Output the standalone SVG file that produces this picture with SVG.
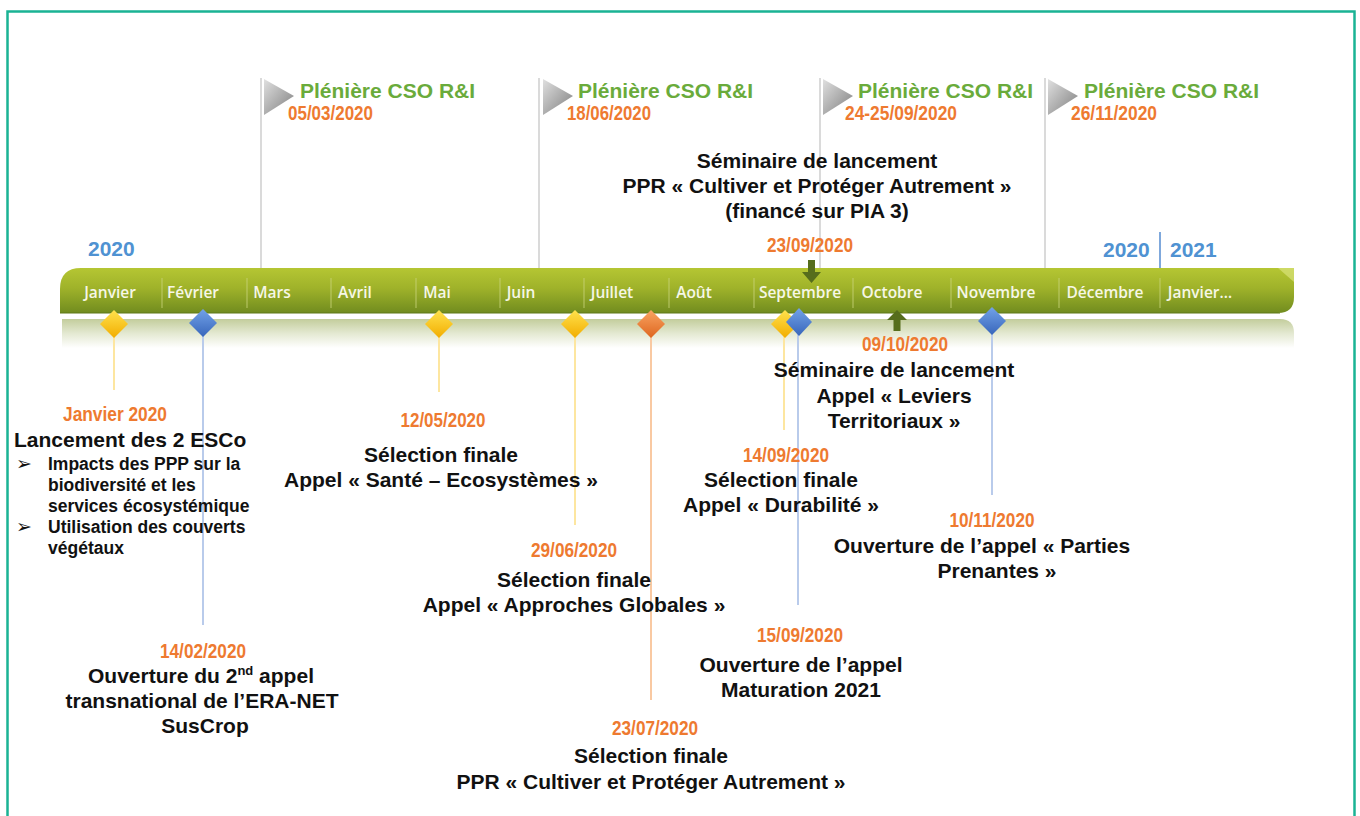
<svg xmlns="http://www.w3.org/2000/svg" width="1360" height="816" viewBox="0 0 1360 816">
<defs>
<linearGradient id="barG" x1="0" y1="0" x2="0" y2="1">
<stop offset="0" stop-color="#b5c633"/><stop offset="0.45" stop-color="#9fb22a"/><stop offset="1" stop-color="#718c1f"/>
</linearGradient>
<linearGradient id="reflG" x1="0" y1="0" x2="0" y2="1">
<stop offset="0" stop-color="#c3cd9c"/><stop offset="0.5" stop-color="#e4e9d2"/><stop offset="1" stop-color="#ffffff"/>
</linearGradient>
<linearGradient id="flagG" x1="0" y1="0" x2="1" y2="1">
<stop offset="0" stop-color="#e0e0e0"/><stop offset="1" stop-color="#7e7e7e"/>
</linearGradient>
<linearGradient id="yelG" x1="0" y1="0" x2="0" y2="1">
<stop offset="0" stop-color="#ffe24d"/><stop offset="1" stop-color="#f2ad00"/>
</linearGradient>
<linearGradient id="bluG" x1="0" y1="0" x2="0" y2="1">
<stop offset="0" stop-color="#72a2e8"/><stop offset="1" stop-color="#3866bb"/>
</linearGradient>
<linearGradient id="oraG" x1="0" y1="0" x2="0" y2="1">
<stop offset="0" stop-color="#f9a463"/><stop offset="1" stop-color="#de661f"/>
</linearGradient>
<style>
.frame{fill:none;stroke:#1ab394;stroke-width:2.5}
.vl{stroke:#dadada;stroke-width:2}
.sep{stroke:#c9d47a;stroke-width:1.2;opacity:0.7}
.mon{font-family:"Open Sans","DejaVu Sans",sans-serif;font-weight:600;font-size:15.5px;fill:#f6f7e6;text-anchor:middle}
.ple{font-family:"Liberation Sans",Arial,sans-serif;font-weight:bold;font-size:21px;fill:#6aab3b}
.dt{font-family:"Liberation Sans",Arial,sans-serif;font-weight:bold;font-size:20px;fill:#ee7a30}
.dtc{font-family:"Liberation Sans",Arial,sans-serif;font-weight:bold;font-size:20px;fill:#ee7a30;text-anchor:middle}
.yr{font-family:"Liberation Sans",Arial,sans-serif;font-weight:bold;font-size:21px;fill:#4f92d2}
.lb{font-family:"Liberation Sans",Arial,sans-serif;font-weight:bold;font-size:21px;fill:#111;text-anchor:middle}
.lbl{font-family:"Liberation Sans",Arial,sans-serif;font-weight:bold;font-size:21px;fill:#111}
.sm{font-family:"Liberation Sans",Arial,sans-serif;font-weight:bold;font-size:17.5px;fill:#111}
.bul{font-family:"DejaVu Sans",sans-serif;font-size:19px;fill:#111}
.ly{stroke:#fde6a0;stroke-width:2}
.lbl2{stroke:#b9cbeb;stroke-width:2}
.lo{stroke:#f9c9a2;stroke-width:2}
.arr{fill:#566d1c}
</style>
</defs>
<rect class="frame" x="7.5" y="11.5" width="1347" height="900"/>

<g id="timeline">
<path d="M62,319 L1280,319 Q1294,319 1294,333 L1294,348 L62,348 Z" fill="url(#reflG)"/>
<path d="M60,313 L60,289 Q60,268 81,268 L1294,268 L1294,297 Q1294,313 1278,313 Z" fill="url(#barG)"/>
<path d="M60,313 L1280,313" stroke="#5f7819" stroke-width="1"/>
<path d="M1278,268 L1294,268 L1294,282 Z" fill="#d8e27a" opacity="0.7"/>
<line class="sep" x1="162" y1="278" x2="162" y2="308"/>
<line class="sep" x1="247" y1="278" x2="247" y2="308"/>
<line class="sep" x1="331" y1="278" x2="331" y2="308"/>
<line class="sep" x1="416" y1="278" x2="416" y2="308"/>
<line class="sep" x1="500" y1="278" x2="500" y2="308"/>
<line class="sep" x1="584" y1="278" x2="584" y2="308"/>
<line class="sep" x1="669" y1="278" x2="669" y2="308"/>
<line class="sep" x1="754" y1="278" x2="754" y2="308"/>
<line class="sep" x1="853" y1="278" x2="853" y2="308"/>
<line class="sep" x1="951" y1="278" x2="951" y2="308"/>
<line class="sep" x1="1059" y1="278" x2="1059" y2="308"/>
<line class="sep" x1="1160" y1="278" x2="1160" y2="308"/>
<text class="mon" x="110" y="298">Janvier</text>
<text class="mon" x="193" y="298">Février</text>
<text class="mon" x="272" y="298">Mars</text>
<text class="mon" x="355" y="298">Avril</text>
<text class="mon" x="437" y="298">Mai</text>
<text class="mon" x="521" y="298">Juin</text>
<text class="mon" x="612" y="298">Juillet</text>
<text class="mon" x="694" y="298">Août</text>
<text class="mon" x="800" y="298">Septembre</text>
<text class="mon" x="892" y="298">Octobre</text>
<text class="mon" x="996" y="298">Novembre</text>
<text class="mon" x="1105" y="298">Décembre</text>
<text class="mon" x="1200" y="298">Janvier…</text>
<text class="yr" x="88" y="256">2020</text>
<text class="yr" x="1103" y="257">2020</text>
<text class="yr" x="1170" y="257">2021</text>
</g>

<g id="connectors">
<line class="vl" x1="261" y1="78" x2="261" y2="268"/>
<line class="vl" x1="539" y1="78" x2="539" y2="268"/>
<line class="vl" x1="820" y1="78" x2="820" y2="268"/>
<line class="vl" x1="1045" y1="78" x2="1045" y2="268"/>
<line x1="1160" y1="232" x2="1160" y2="268" stroke="#7fa8dc" stroke-width="2"/>
<line class="ly" x1="114" y1="330" x2="114" y2="390"/>
<line class="lbl2" x1="203" y1="330" x2="203" y2="625"/>
<line class="ly" x1="439" y1="330" x2="439" y2="392"/>
<line class="ly" x1="575" y1="330" x2="575" y2="525"/>
<line class="lo" x1="651" y1="330" x2="651" y2="700"/>
<line class="ly" x1="784" y1="330" x2="784" y2="430"/>
<line class="lbl2" x1="798" y1="330" x2="798" y2="605"/>
<line class="lbl2" x1="992" y1="330" x2="992" y2="495"/>
</g>

<g id="flag1">
<polygon points="264,79 294,96 264,115" fill="url(#flagG)"/>
<text class="ple" x="300" y="98">Plénière CSO R&amp;I</text>
<text class="dt" x="288" y="120" textLength="85" lengthAdjust="spacingAndGlyphs">05/03/2020</text>
</g>
<g id="flag2">
<polygon points="543,79 573,96 543,115" fill="url(#flagG)"/>
<text class="ple" x="578" y="98">Plénière CSO R&amp;I</text>
<text class="dt" x="567" y="120" textLength="84" lengthAdjust="spacingAndGlyphs">18/06/2020</text>
</g>
<g id="flag3">
<polygon points="823,79 853,96 823,115" fill="url(#flagG)"/>
<text class="ple" x="858" y="98">Plénière CSO R&amp;I</text>
<text class="dt" x="845" y="120" textLength="112" lengthAdjust="spacingAndGlyphs">24-25/09/2020</text>
</g>
<g id="flag4">
<polygon points="1048,79 1078,96 1048,115" fill="url(#flagG)"/>
<text class="ple" x="1084" y="98">Plénière CSO R&amp;I</text>
<text class="dt" x="1071" y="120" textLength="86" lengthAdjust="spacingAndGlyphs">26/11/2020</text>
</g>

<g id="ev-janvier">
<polygon points="114,310 128,324 114,338 100,324" fill="url(#yelG)"/>
<text class="dtc" x="115" y="421" textLength="104" lengthAdjust="spacingAndGlyphs">Janvier 2020</text>
<text class="lbl" x="14" y="447">Lancement des 2 ESCo</text>
<text class="bul" x="16" y="470">➢</text>
<text class="sm" x="48" y="470">Impacts des PPP sur la</text>
<text class="sm" x="48" y="491">biodiversité et les</text>
<text class="sm" x="48" y="512">services écosystémique</text>
<text class="bul" x="16" y="533">➢</text>
<text class="sm" x="48" y="533">Utilisation des couverts</text>
<text class="sm" x="48" y="554">végétaux</text>
</g>

<g id="ev-fevrier">
<polygon points="203,309 217,323 203,337 189,323" fill="url(#bluG)"/>
<text class="dtc" x="203" y="658" textLength="86" lengthAdjust="spacingAndGlyphs">14/02/2020</text>
<text class="lb" x="201" y="683">Ouverture du 2<tspan font-size="13" dy="-8">nd</tspan><tspan dy="8"> appel</tspan></text>
<text class="lb" x="202" y="708">transnational de l’ERA-NET</text>
<text class="lb" x="205" y="733">SusCrop</text>
</g>

<g id="ev-mai">
<polygon points="439,310 453,324 439,338 425,324" fill="url(#yelG)"/>
<text class="dtc" x="443" y="427" textLength="85" lengthAdjust="spacingAndGlyphs">12/05/2020</text>
<text class="lb" x="441" y="462">Sélection finale</text>
<text class="lb" x="441" y="487">Appel « Santé – Ecosystèmes »</text>
</g>

<g id="ev-juin">
<polygon points="575,310 589,324 575,338 561,324" fill="url(#yelG)"/>
<text class="dtc" x="574" y="557" textLength="86" lengthAdjust="spacingAndGlyphs">29/06/2020</text>
<text class="lb" x="574" y="587">Sélection finale</text>
<text class="lb" x="574" y="612">Appel « Approches Globales »</text>
</g>

<g id="ev-juillet">
<polygon points="651,310 665,324 651,338 637,324" fill="url(#oraG)"/>
<text class="dtc" x="655" y="735" textLength="86" lengthAdjust="spacingAndGlyphs">23/07/2020</text>
<text class="lb" x="651" y="763">Sélection finale</text>
<text class="lb" x="651" y="789">PPR « Cultiver et Protéger Autrement »</text>
</g>

<g id="ev-sept-seminaire">
<polygon class="arr" points="808,260 815,260 815,272 821,272 811.5,283 802,272 808,272"/>
<text class="lb" x="817" y="168">Séminaire de lancement</text>
<text class="lb" x="817" y="193">PPR « Cultiver et Protéger Autrement »</text>
<text class="lb" x="817" y="218">(financé sur PIA 3)</text>
<text class="dtc" x="810" y="252" textLength="86" lengthAdjust="spacingAndGlyphs">23/09/2020</text>
</g>

<g id="ev-sept-durabilite">
<polygon points="785,310 799,324 785,338 771,324" fill="url(#yelG)"/>
<text class="dtc" x="786" y="462" textLength="86" lengthAdjust="spacingAndGlyphs">14/09/2020</text>
<text class="lb" x="781" y="487">Sélection finale</text>
<text class="lb" x="781" y="512">Appel « Durabilité »</text>
</g>

<g id="ev-sept-maturation">
<polygon points="799,308 812,322 799,336 786,322" fill="url(#bluG)"/>
<text class="dtc" x="800" y="642" textLength="86" lengthAdjust="spacingAndGlyphs">15/09/2020</text>
<text class="lb" x="801" y="672">Ouverture de l’appel</text>
<text class="lb" x="801" y="697">Maturation 2021</text>
</g>

<g id="ev-octobre">
<polygon class="arr" points="893.5,331 900.5,331 900.5,320 907,320 897,310 887,320 893.5,320"/>
<text class="dtc" x="905" y="351" textLength="86" lengthAdjust="spacingAndGlyphs">09/10/2020</text>
<text class="lb" x="894" y="377">Séminaire de lancement</text>
<text class="lb" x="894" y="403">Appel « Leviers</text>
<text class="lb" x="894" y="428">Territoriaux »</text>
</g>

<g id="ev-novembre">
<polygon points="992,307 1006,321 992,335 978,321" fill="url(#bluG)"/>
<text class="dtc" x="992" y="527" textLength="85" lengthAdjust="spacingAndGlyphs">10/11/2020</text>
<text class="lb" x="982" y="553">Ouverture de l’appel « Parties</text>
<text class="lb" x="997" y="578">Prenantes »</text>
</g>
</svg>
